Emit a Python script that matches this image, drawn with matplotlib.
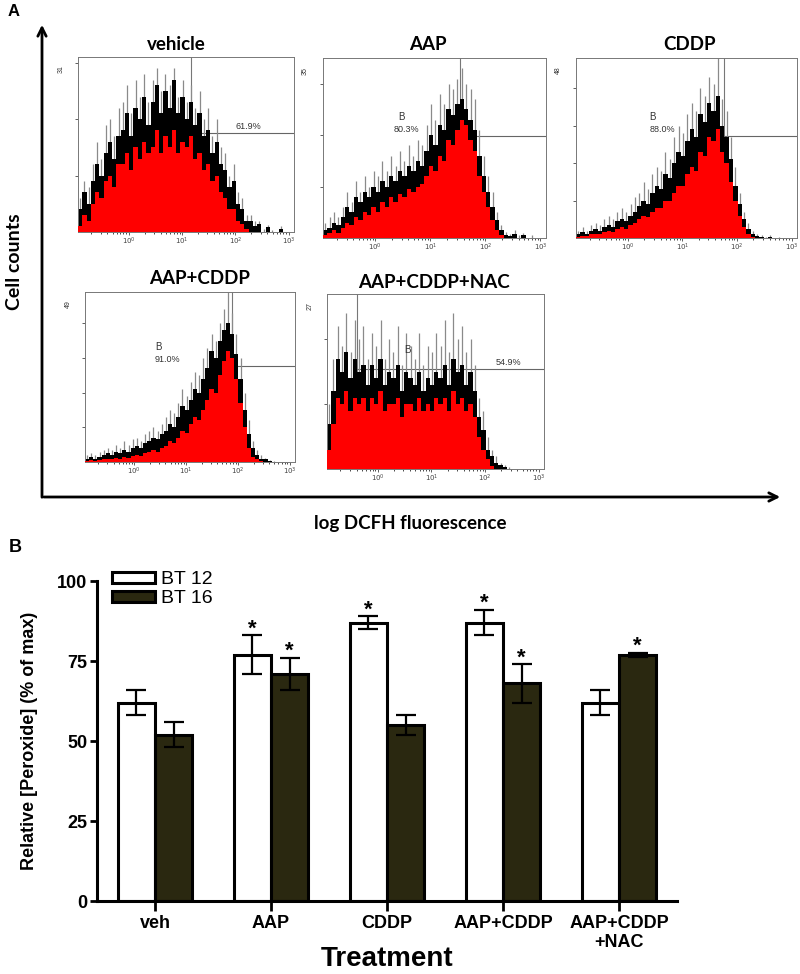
import matplotlib
matplotlib.use("Agg")
import matplotlib.pyplot as plt
import numpy as np
from matplotlib.patches import Patch

plt.rcParams["font.family"] = ["Liberation Sans", "DejaVu Sans"]

# ── Panel A: DCFH histograms (counts per bin, bins 0.08 log-decades from 10^-0.95) ──
BIN_START = -0.95
BIN_WIDTH = 0.08

hist_titles = ["vehicle", "AAP", "CDDP", "AAP+CDDP", "AAP+CDDP+NAC"]
hist_ymax = [31, 35, 48, 49, 27]

vehicle_spike = [6, 9, 8, 12, 16, 13, 19, 20, 17, 22,
                 23, 26, 21, 27, 24, 28, 23, 27, 29, 25,
                 28, 26, 29, 24, 27, 23, 26, 22, 25, 20,
                 22, 17, 20, 15, 14, 10, 12, 7, 6, 3,
                 3, 2, 2, 0.5, 1.2, 0.4, 0, 1, 0, 0]
vehicle_black = [4, 7, 5, 9, 12, 10, 14, 16, 13, 17,
                 18, 21, 17, 22, 20, 24, 19, 23, 26, 21,
                 25, 22, 27, 21, 24, 20, 23, 19, 21, 17,
                 18, 14, 16, 12, 11, 8, 9, 5, 4, 2,
                 2, 1, 1.5, 0, 0.8, 0, 0, 0.5, 0, 0]
vehicle_red = [1, 3, 2, 5, 7, 6, 9, 10, 8, 12,
               12, 14, 11, 15, 13, 16, 14, 15, 18, 14,
               17, 15, 18, 14, 16, 15, 17, 13, 14, 11,
               12, 9, 10, 7, 6, 4, 4, 2, 1.5, 0.5,
               0, 0, 0, 0, 0, 0, 0, 0, 0, 0]

aap_spike = [3, 4, 5, 4, 6, 9, 7, 11, 9, 12,
             10, 13, 12, 15, 13, 16, 14, 17, 15, 18,
             16, 19, 18, 22, 26, 23, 28, 26, 30, 29,
             31, 33, 30, 29, 27, 21, 16, 12, 9, 5,
             2.5, 1.2, 0.8, 1.5, 0.5, 1, 0, 0.5, 0, 0]
aap_black = [1.5, 2, 3, 2.5, 4, 6, 5, 8, 7, 9,
             8, 10, 9, 11, 10, 12, 11, 13, 12, 14,
             13, 15, 14, 17, 20, 18, 22, 21, 25, 24,
             26, 27, 25, 23, 21, 16, 12, 9, 6, 3.5,
             1.5, 0.6, 0.3, 0.8, 0, 0.5, 0, 0, 0, 0]
aap_red = [0.5, 1, 1.5, 1, 2, 3, 2.5, 4, 3.5, 5,
           4.5, 6, 5, 7, 6, 8, 7, 8.5, 8, 9.5,
           9, 10, 10.5, 12, 14, 13, 16, 15, 19, 18,
           21, 23, 22, 19, 17, 12, 9, 6, 3.5, 1.5,
           0.5, 0, 0, 0, 0, 0, 0, 0, 0, 0]

cddp_spike = [2, 3, 2, 3.5, 4, 3.5, 5, 6, 5, 7,
              8, 7, 9, 11, 12, 15, 13, 17, 19, 18,
              23, 21, 27, 30, 28, 33, 36, 34, 40, 38,
              43, 41, 48, 37, 34, 27, 19, 12, 7, 4,
              2, 1, 0.8, 0.3, 0.8, 0, 0.4, 0, 0, 0]
cddp_black = [1, 1.5, 1, 2, 2.5, 2, 3, 3.5, 3, 4.5,
              5, 4.5, 6, 7, 8.5, 10, 9, 12, 14, 13,
              17, 16, 20, 23, 22, 26, 29, 27, 33, 31,
              36, 34, 38, 30, 27, 21, 14, 9, 5, 2.5,
              1, 0.5, 0.3, 0, 0.4, 0, 0, 0, 0, 0]
cddp_red = [0.3, 0.5, 0.5, 1, 1, 1, 1.5, 2, 1.5, 2.5,
            3, 2.5, 3.5, 4, 5, 6, 5.5, 7, 8, 8,
            10, 10, 12, 14, 14, 17, 19, 18, 23, 22,
            27, 26, 29, 23, 20, 15, 10, 6, 3, 1,
            0.3, 0, 0, 0, 0, 0, 0, 0, 0, 0]

combo_spike = [2, 2.5, 2, 3, 3.5, 4, 3.5, 5, 4, 6,
               5, 6.5, 7, 6, 8, 9, 10, 9, 11, 13,
               15, 14, 17, 21, 19, 23, 26, 25, 30, 33,
               37, 35, 40, 44, 49, 43, 37, 30, 20, 12,
               6, 3.5, 2, 1.2, 0.6, 0.3, 0, 0, 0, 0]
combo_black = [1, 1.5, 1, 1.5, 2, 2.5, 2, 3, 2.5, 3.5,
               3, 4, 4.5, 4, 5.5, 6, 7, 6.5, 8, 9,
               11, 10, 13, 16, 15, 18, 21, 20, 24, 27,
               32, 30, 35, 38, 40, 37, 31, 24, 15, 8,
               4, 2, 1, 0.8, 0.3, 0, 0, 0, 0, 0]
combo_red = [0.3, 0.5, 0.3, 0.5, 0.8, 1, 0.8, 1.2, 1, 1.5,
             1.2, 1.8, 2, 1.8, 2.5, 3, 3.5, 3, 4, 4.5,
             6, 5.5, 7, 9, 8.5, 11, 13, 12, 15, 18,
             21, 20, 25, 29, 32, 30, 24, 17, 10, 4,
             1.5, 0.8, 0.3, 0, 0, 0, 0, 0, 0, 0]

nac_spike = [10, 17, 22, 19, 24, 18, 23, 20, 22, 17,
             21, 19, 23, 17, 20, 18, 22, 16, 21, 19,
             17, 21, 16, 19, 18, 21, 19, 23, 18, 24,
             20, 22, 18, 20, 16, 11, 9, 5, 3, 2,
             1, 0.6, 0.3, 0, 0, 0, 0, 0, 0, 0]
nac_black = [7, 12, 17, 15, 18, 14, 17, 15, 16, 13,
             16, 14, 17, 13, 15, 14, 16, 12, 15, 14,
             13, 15, 12, 14, 13, 15, 14, 16, 13, 17,
             15, 16, 13, 15, 12, 8, 6, 3, 2, 1,
             0.6, 0.3, 0, 0, 0, 0, 0, 0, 0, 0]
nac_red = [3, 7, 11, 10, 12, 9, 11, 10, 11, 9,
           11, 10, 12, 9, 10, 10, 11, 8, 10, 10,
           9, 11, 9, 10, 9, 11, 10, 11, 9, 12,
           10, 11, 9, 10, 8, 5, 3, 1.5, 0.5, 0,
           0, 0, 0, 0, 0, 0, 0, 0, 0, 0]

hist_spike = [vehicle_spike, aap_spike, cddp_spike, combo_spike, nac_spike]
hist_black = [vehicle_black, aap_black, cddp_black, combo_black, nac_black]
hist_red = [vehicle_red, aap_red, cddp_red, combo_red, nac_red]

# marker "B" gate: vertical position (log10), level (counts), percentage inside
gate_x = [1.16, 1.54, 1.76, 1.88, -0.39]
gate_y = [17.5, 19.8, 27.2, 27.7, 15.4]
gate_pct = ["61.9%", "80.3%", "88.0%", "91.0%", "54.9%"]

# ── Panel B: relative peroxide ──
treatments = ["veh", "AAP", "CDDP", "AAP+CDDP", "AAP+CDDP\n+NAC"]
bt12_mean = [62, 77, 87, 87, 62]
bt12_sem = [4, 6, 2, 4, 4]
bt16_mean = [52, 71, 55, 68, 77]
bt16_sem = [4, 5, 3, 6, 0.6]
bt12_sig = [False, True, True, True, False]
bt16_sig = [False, True, False, True, True]

W, H = 800, 974
fig = plt.figure(figsize=(8, 9.74), dpi=100)

# pixel overlay for arrows and panel-level text
ov = fig.add_axes([0, 0, 1, 1])
ov.set_xlim(0, W)
ov.set_ylim(H, 0)
ov.axis("off")

def px_axes(l, t, r, b):
    return fig.add_axes([l / W, 1 - b / H, (r - l) / W, (b - t) / H])

hist_boxes = [(78, 57, 294, 232), (323, 58, 546, 238), (576, 58, 797, 238),
              (85, 292, 295, 462), (327, 294, 544, 469)]
title_pos = [(176, 44), (428, 45), (690, 45), (200, 279), (434, 282)]
pct_x = [2.0, 0.33, 0.4, 0.4, 2.2]
show_b = [False, True, True, True, True]
b_x = [0, 0.42, 0.4, 0.4, 0.5]

centers = BIN_START + BIN_WIDTH * (np.arange(50) + 0.5)
minor = [d + np.log10(k) for d in range(-1, 3) for k in range(2, 10)]

for i, box in enumerate(hist_boxes):
    ax = px_axes(*box)
    ymax = hist_ymax[i]
    ax.vlines(centers, 0, hist_spike[i], color="#8a8a8a", lw=0.9, zorder=1.5)
    ax.bar(centers, hist_black[i], width=BIN_WIDTH, color="black", linewidth=0, zorder=2)
    ax.bar(centers, hist_red[i], width=BIN_WIDTH, color="#ff0000", linewidth=0, zorder=3)
    ax.plot([gate_x[i], gate_x[i]], [0, ymax], color="#777777", lw=0.8, zorder=1)
    ax.plot([gate_x[i], 3.1], [gate_y[i], gate_y[i]], color="#666666", lw=0.8, zorder=1)
    ax.text(pct_x[i], gate_y[i] + ymax * 0.01, gate_pct[i], fontsize=6.5,
            ha="left", va="bottom", color="#333333", zorder=4)
    if show_b[i]:
        ax.text(b_x[i], gate_y[i] + ymax * 0.08, "B", fontsize=7,
                ha="left", va="bottom", color="#333333", zorder=4)
    ax.set_xlim(-0.95, 3.1)
    ax.set_ylim(0, ymax)
    ax.set_xticks([0, 1, 2, 3])
    ax.set_xticklabels(["$10^{0}$", "$10^{1}$", "$10^{2}$", "$10^{3}$"], fontsize=5)
    ax.set_xticks(minor, minor=True)
    ax.set_yticks(np.arange(10, ymax, 10))
    ax.set_yticklabels([])
    ax.tick_params(axis="both", length=2, width=0.6, pad=1, colors="#444444")
    ax.tick_params(axis="x", which="minor", length=1.3, width=0.5)
    for s in ax.spines.values():
        s.set_color("#777777")
        s.set_linewidth(0.7)
    ax.text(-0.08, 0.93, str(ymax), transform=ax.transAxes, rotation=90,
            fontsize=5, ha="center", va="center", color="#333333")
    tx, ty = title_pos[i]
    ov.text(tx, ty, hist_titles[i], fontsize=13.5, fontweight="bold",
            family=["Lato", "DejaVu Sans"], ha="center", va="center")

ov.annotate("", xy=(42, 22), xytext=(42, 500),
            arrowprops=dict(arrowstyle="->,head_length=0.6,head_width=0.3", lw=2, color="black"))
ov.annotate("", xy=(783, 497), xytext=(41, 497),
            arrowprops=dict(arrowstyle="->,head_length=0.6,head_width=0.3", lw=2, color="black"))
ov.text(15, 262, "Cell counts", rotation=90, fontsize=14, fontweight="bold",
        family=["Lato", "DejaVu Sans"], ha="center", va="center")
ov.text(410, 523, "log DCFH fluorescence", fontsize=13.5, fontweight="bold",
        family=["Lato", "DejaVu Sans"], ha="center", va="center")
ov.text(14, 12, "A", fontsize=12, fontweight="bold", ha="center", va="center")
ov.text(15, 548, "B", fontsize=13, fontweight="bold", ha="center", va="center")

# ── bar chart ──
axb = px_axes(97, 581, 677, 901)
x = np.arange(len(treatments))
w = 0.32
err_kw = dict(ecolor="black", elinewidth=1.6, capsize=7.5, capthick=1.6)
axb.bar(x - w / 2, bt12_mean, w, yerr=bt12_sem, color="white", edgecolor="black",
        linewidth=2.2, error_kw=err_kw, zorder=2)
axb.bar(x + w / 2, bt16_mean, w, yerr=bt16_sem, color="#2a2810", edgecolor="black",
        linewidth=2.2, error_kw=err_kw, zorder=2)

for i in range(len(treatments)):
    if bt12_sig[i]:
        axb.annotate("*", (x[i] - w / 2, bt12_mean[i] + bt12_sem[i]), xytext=(0, -3),
                     textcoords="offset points", ha="center", va="bottom",
                     fontsize=16, fontweight="bold")
    if bt16_sig[i]:
        axb.annotate("*", (x[i] + w / 2, bt16_mean[i] + bt16_sem[i]), xytext=(0, -3),
                     textcoords="offset points", ha="center", va="bottom",
                     fontsize=16, fontweight="bold")

axb.set_xlim(-0.5, 4.5)
axb.set_ylim(0, 100)
axb.set_yticks([0, 25, 50, 75, 100])
axb.set_xticks(x)
axb.set_xticklabels(treatments, fontsize=13, fontweight="bold")
for lab in axb.get_yticklabels():
    lab.set_fontsize(13)
    lab.set_fontweight("bold")
axb.spines[["top", "right"]].set_visible(False)
axb.spines["left"].set_linewidth(2.2)
axb.spines["bottom"].set_linewidth(2.2)
axb.tick_params(axis="y", length=5, width=2, pad=2)
axb.tick_params(axis="x", length=7, width=2, pad=3)
axb.set_ylabel("Relative [Peroxide] (% of max)", fontsize=13, fontweight="bold")
axb.yaxis.set_label_coords(-0.102, 0.5)
axb.set_xlabel("Treatment", fontsize=20, fontweight="bold")
axb.xaxis.set_label_coords(0.5, -0.14)

handles = [Patch(facecolor="white", edgecolor="black", linewidth=2.2),
           Patch(facecolor="#2a2810", edgecolor="black", linewidth=2.2)]
axb.legend(handles, ["BT 12", "BT 16"], loc="upper left", bbox_to_anchor=(0.026, 1.03),
           frameon=False, fontsize=14, handlelength=2.2, handleheight=0.55,
           handletextpad=0.3, labelspacing=0.1, borderaxespad=0, borderpad=0)

fig.savefig("out.png", dpi=100)
